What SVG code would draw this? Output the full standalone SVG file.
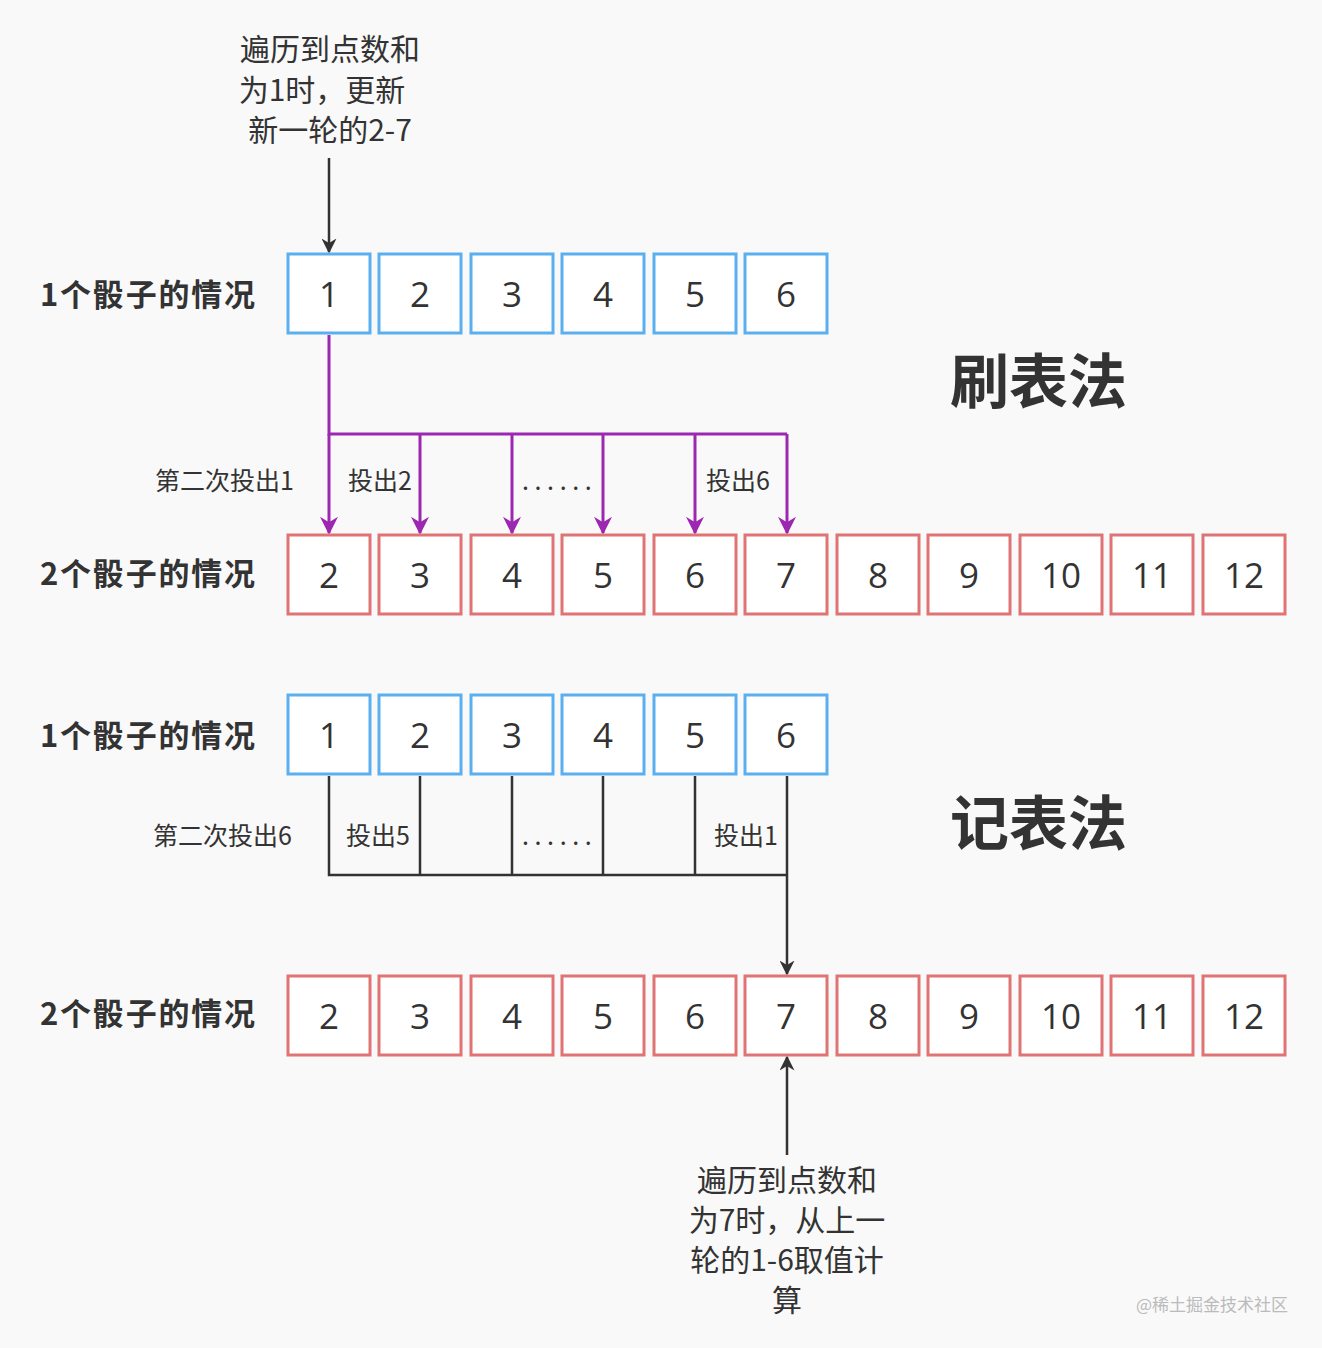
<svg xmlns="http://www.w3.org/2000/svg" width="1322" height="1348" viewBox="0 0 1322 1348">
<defs>
<marker id="ap" viewBox="0 0 10 10" refX="9" refY="5" markerWidth="6" markerHeight="6" orient="auto"><path d="M0,0 L10,5 L0,10 L3,5 z" fill="#9c27b0"/></marker>
<marker id="ak" viewBox="0 0 10 10" refX="9" refY="5" markerWidth="6" markerHeight="6" orient="auto"><path d="M0,0 L10,5 L0,10 L3,5 z" fill="#333"/></marker>
</defs>
<style>
.b{fill:#fff;stroke:#5aaff0;stroke-width:3}
.r{fill:#fff;stroke:#e07474;stroke-width:3}
.n{font-family:"Open Sans","Noto Sans",sans-serif;font-size:35px;fill:#333;text-anchor:middle}
.l{font-family:"Noto Sans CJK SC",sans-serif;font-size:31px;font-weight:bold;fill:#333}
.s{font-family:"Noto Sans CJK SC",sans-serif;font-size:25px;fill:#333}
.t{font-family:"Noto Sans CJK SC",sans-serif;font-size:30px;fill:#333;text-anchor:middle}
.h{font-family:"Noto Sans CJK SC",sans-serif;font-size:59px;font-weight:bold;fill:#333}
.p{fill:none;stroke:#9c27b0;stroke-width:3}
.k{fill:none;stroke:#333;stroke-width:2.5}
</style>
<rect width="1322" height="1348" fill="#f9f9f9"/>
<g id="labels">
<text class="l" x="40" y="306" textLength="215">1个骰子的情况</text>
<text class="l" x="40" y="585" textLength="215">2个骰子的情况</text>
<text class="l" x="40" y="747" textLength="215">1个骰子的情况</text>
<text class="l" x="40" y="1025" textLength="215">2个骰子的情况</text>
<text class="h" x="950" y="403">刷表法</text>
<text class="h" x="950" y="845">记表法</text>
<text class="t" x="330" y="60">遍历到点数和</text>
<text class="t" x="322" y="101">为1时，更新</text>
<text class="t" x="330" y="141">新一轮的2-7</text>
<text class="t" x="787" y="1191">遍历到点数和</text>
<text class="t" x="787" y="1231">为7时，从上一</text>
<text class="t" x="787" y="1271">轮的1-6取值计</text>
<text class="t" x="787" y="1311">算</text>
<text class="s" x="155" y="490">第二次投出1</text>
<text class="s" x="348" y="490">投出2</text>
<text class="s" x="522" y="490">. . . . . .</text>
<text class="s" x="706" y="490">投出6</text>
<text class="s" x="153" y="845">第二次投出6</text>
<text class="s" x="346" y="845">投出5</text>
<text class="s" x="522" y="845">. . . . . .</text>
<text class="s" x="714" y="845">投出1</text>
<text x="1288" y="1311" font-family="Noto Sans CJK SC,sans-serif" font-size="17" fill="#bbb" text-anchor="end">@稀土掘金技术社区</text>
</g>
<g id="connectors">
<line class="k" x1="329" y1="158" x2="329" y2="252" marker-end="url(#ak)"/>
<path class="p" d="M329,335 V434 H787"/>
<line class="p" x1="329" y1="434" x2="329" y2="533" marker-end="url(#ap)"/>
<line class="p" x1="420" y1="434" x2="420" y2="533" marker-end="url(#ap)"/>
<line class="p" x1="512" y1="434" x2="512" y2="533" marker-end="url(#ap)"/>
<line class="p" x1="603" y1="434" x2="603" y2="533" marker-end="url(#ap)"/>
<line class="p" x1="695" y1="434" x2="695" y2="533" marker-end="url(#ap)"/>
<line class="p" x1="787" y1="434" x2="787" y2="533" marker-end="url(#ap)"/>
<path class="k" d="M329,776 V875 H787 M420,776 V875 M512,776 V875 M603,776 V875 M695,776 V875"/>
<line class="k" x1="787" y1="776" x2="787" y2="974" marker-end="url(#ak)"/>
<line class="k" x1="787" y1="1155" x2="787" y2="1057" marker-end="url(#ak)"/>
</g>
<g id="row1">
<rect class="b" x="288" y="254" width="82" height="79"/><text class="n" x="329" y="307">1</text>
<rect class="b" x="379" y="254" width="82" height="79"/><text class="n" x="420" y="307">2</text>
<rect class="b" x="471" y="254" width="82" height="79"/><text class="n" x="512" y="307">3</text>
<rect class="b" x="562" y="254" width="82" height="79"/><text class="n" x="603" y="307">4</text>
<rect class="b" x="654" y="254" width="82" height="79"/><text class="n" x="695" y="307">5</text>
<rect class="b" x="745" y="254" width="82" height="79"/><text class="n" x="786" y="307">6</text>
</g>
<g id="row2">
<rect class="r" x="288" y="535" width="82" height="79"/><text class="n" x="329" y="588">2</text>
<rect class="r" x="379" y="535" width="82" height="79"/><text class="n" x="420" y="588">3</text>
<rect class="r" x="471" y="535" width="82" height="79"/><text class="n" x="512" y="588">4</text>
<rect class="r" x="562" y="535" width="82" height="79"/><text class="n" x="603" y="588">5</text>
<rect class="r" x="654" y="535" width="82" height="79"/><text class="n" x="695" y="588">6</text>
<rect class="r" x="745" y="535" width="82" height="79"/><text class="n" x="786" y="588">7</text>
<rect class="r" x="837" y="535" width="82" height="79"/><text class="n" x="878" y="588">8</text>
<rect class="r" x="928" y="535" width="82" height="79"/><text class="n" x="969" y="588">9</text>
<rect class="r" x="1020" y="535" width="82" height="79"/><text class="n" x="1061" y="588">10</text>
<rect class="r" x="1111" y="535" width="82" height="79"/><text class="n" x="1152" y="588">11</text>
<rect class="r" x="1203" y="535" width="82" height="79"/><text class="n" x="1244" y="588">12</text>
</g>
<g id="row3">
<rect class="b" x="288" y="695" width="82" height="79"/><text class="n" x="329" y="748">1</text>
<rect class="b" x="379" y="695" width="82" height="79"/><text class="n" x="420" y="748">2</text>
<rect class="b" x="471" y="695" width="82" height="79"/><text class="n" x="512" y="748">3</text>
<rect class="b" x="562" y="695" width="82" height="79"/><text class="n" x="603" y="748">4</text>
<rect class="b" x="654" y="695" width="82" height="79"/><text class="n" x="695" y="748">5</text>
<rect class="b" x="745" y="695" width="82" height="79"/><text class="n" x="786" y="748">6</text>
</g>
<g id="row4">
<rect class="r" x="288" y="976" width="82" height="79"/><text class="n" x="329" y="1029">2</text>
<rect class="r" x="379" y="976" width="82" height="79"/><text class="n" x="420" y="1029">3</text>
<rect class="r" x="471" y="976" width="82" height="79"/><text class="n" x="512" y="1029">4</text>
<rect class="r" x="562" y="976" width="82" height="79"/><text class="n" x="603" y="1029">5</text>
<rect class="r" x="654" y="976" width="82" height="79"/><text class="n" x="695" y="1029">6</text>
<rect class="r" x="745" y="976" width="82" height="79"/><text class="n" x="786" y="1029">7</text>
<rect class="r" x="837" y="976" width="82" height="79"/><text class="n" x="878" y="1029">8</text>
<rect class="r" x="928" y="976" width="82" height="79"/><text class="n" x="969" y="1029">9</text>
<rect class="r" x="1020" y="976" width="82" height="79"/><text class="n" x="1061" y="1029">10</text>
<rect class="r" x="1111" y="976" width="82" height="79"/><text class="n" x="1152" y="1029">11</text>
<rect class="r" x="1203" y="976" width="82" height="79"/><text class="n" x="1244" y="1029">12</text>
</g>
</svg>
